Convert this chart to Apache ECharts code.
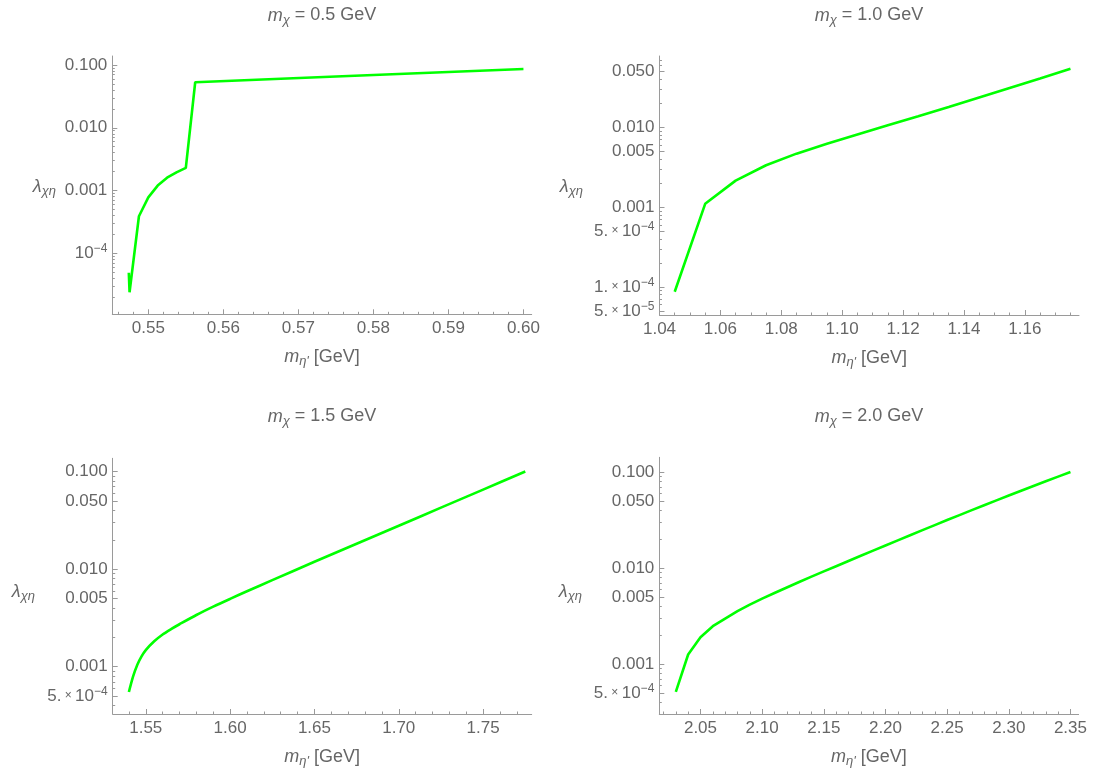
<!DOCTYPE html>
<html>
<head>
<meta charset="utf-8">
<script src="https://cdn.jsdelivr.net/npm/echarts@6.0.0/dist/echarts.min.js"></script>
<style>
html,body{margin:0;padding:0;background:#fff;}
#chart{width:1094px;height:769px;}
</style>
</head>
<body>
<div id="chart"></div>
<script>
// ---------------- data ----------------
const titles = ['0.5 GeV', '1.0 GeV', '1.5 GeV', '2.0 GeV'];

// m_chi = 0.5 GeV
const p1X = [0.5474, 0.5475, 0.54875, 0.5500, 0.55125, 0.5525, 0.55375, 0.5550, 0.55625, 0.5742, 0.5800, 0.5900, 0.6000];
const p1Y = [4.9e-5, 2.4e-5, 3.9e-4, 7.8e-4, 1.2e-3, 1.6e-3, 1.95e-3, 2.3e-3, 0.0531, 0.0649, 0.0692, 0.0773, 0.0863];

// m_chi = 1.0 GeV
const p2X = [1.045, 1.055, 1.065, 1.075, 1.085, 1.095, 1.105, 1.115, 1.125, 1.135, 1.145, 1.155, 1.165, 1.175];
const p2Y = [8.7e-5, 1.10e-3, 2.15e-3, 3.35e-3, 4.68e-3, 6.24e-3, 8.13e-3, 0.0106, 0.0138, 0.0180, 0.0237, 0.0311, 0.0409, 0.0541];

// m_chi = 1.5 GeV
const p3X = [1.540, 1.5425, 1.545, 1.5475, 1.550, 1.555, 1.560, 1.565, 1.570, 1.580, 1.590, 1.600, 1.610, 1.625, 1.650, 1.675, 1.700, 1.725, 1.750, 1.775];
const p3Y = [5.50e-4, 7.94e-4, 1.047e-3, 1.274e-3, 1.479e-3, 1.820e-3, 2.138e-3, 2.427e-3, 2.723e-3, 3.388e-3, 4.121e-3, 4.955e-3, 5.929e-3, 7.709e-3, 0.01189, 0.01820, 0.02786, 0.04266, 0.06531, 0.1000];

// m_chi = 2.0 GeV
const p4X = [2.03, 2.04, 2.05, 2.06, 2.07, 2.08, 2.09, 2.10, 2.11, 2.12, 2.13, 2.14, 2.15, 2.16, 2.17, 2.18, 2.19, 2.20, 2.21, 2.22, 2.23, 2.24, 2.25, 2.26, 2.27, 2.28, 2.29, 2.30, 2.31, 2.32, 2.33, 2.34, 2.35];
const p4Y = [5.129e-4, 1.259e-3, 1.905e-3, 2.483e-3, 2.985e-3, 3.565e-3, 4.169e-3, 4.808e-3, 5.508e-3, 6.292e-3, 7.168e-3, 8.147e-3, 9.243e-3, 0.010478, 0.011873, 0.013448, 0.015226, 0.017227, 0.019487, 0.022029, 0.024889, 0.028088, 0.031681, 0.035705, 0.040216, 0.045238, 0.050862, 0.057118, 0.064091, 0.071819, 0.080394, 0.089917, 0.10042];

// tick labels
const p1XTicks = [0.55, 0.56, 0.57, 0.58, 0.59, 0.60];
const p2XTicks = [1.04, 1.06, 1.08, 1.10, 1.12, 1.14, 1.16];
const p3XTicks = [1.55, 1.60, 1.65, 1.70, 1.75];
const p4XTicks = [2.05, 2.10, 2.15, 2.20, 2.25, 2.30, 2.35];

const p1YTicks = [1e-4, 1e-3, 1e-2, 1e-1];
const p1YLabels = ['{n|10}{p|−4}', '0.001', '0.010', '0.100'];
const p2YTicks = [5e-5, 1e-4, 5e-4, 1e-3, 5e-3, 1e-2, 5e-2];
const p2YLabels = ['{n|5.}{x| × }{n|10}{p|−5}', '{n|1.}{x| × }{n|10}{p|−4}', '{n|5.}{x| × }{n|10}{p|−4}', '0.001', '0.005', '0.010', '0.050'];
const p34YTicks = [5e-4, 1e-3, 5e-3, 1e-2, 5e-2, 1e-1];
const p34YLabels = ['{n|5.}{x| × }{n|10}{p|−4}', '0.001', '0.005', '0.010', '0.050', '0.100'];

// ---------------- layout / style ----------------
const FONT = '"Liberation Sans", Arial, sans-serif';
const AX = '#9a9a9a';
const TXT = '#666666';
const GREEN = '#00ff00';
const TICK_FS = 17;

function range(a, b, step, skipEvery) {
  const out = [];
  for (let k = a; k <= b; k++) {
    if (skipEvery && k % skipEvery === 0) continue;
    out.push(+(k * step).toFixed(4));
  }
  return out;
}
function logMinor(minLog, maxLog, majors) {
  const out = [];
  for (let e = -7; e <= 1; e++) {
    for (let k = 1; k <= 9; k++) {
      const v = k * Math.pow(10, e);
      const lv = Math.log10(v);
      if (lv < minLog || lv > maxLog) continue;
      if (majors.some(m => Math.abs(v / m - 1) < 1e-6)) continue;
      out.push(v);
    }
  }
  return out;
}

const panels = [
  { grid: {left: 112.3, top: 56, width: 419.4, height: 258.3}, xr: [0.5452, 0.6011], yr: [-4.971, -0.857],
    xs: p1X, ys: p1Y, xt: p1XTicks, xm: range(273, 300, 0.002, 5), yt: p1YTicks, yl: p1YLabels, smooth: false,
    lam: [56, 186.5], ttl: [322, 15.5] },
  { grid: {left: 659.5, top: 56, width: 419.5, height: 259}, xr: [1.0400, 1.1778], yr: [-4.352, -1.106],
    xs: p2X, ys: p2Y, xt: p2XTicks, xm: range(208, 235, 0.005, 4), yt: p2YTicks, yl: p2YLabels, smooth: false,
    lam: [583, 187], ttl: [869, 15.5] },
  { grid: {left: 112.7, top: 458.3, width: 419, height: 257.7}, xr: [1.5304, 1.7788], yr: [-3.485, -0.864],
    xs: p3X, ys: p3Y, xt: p3XTicks, xm: range(154, 177, 0.01, 5), yt: p34YTicks, yl: p34YLabels, smooth: 0.3,
    lam: [35, 592], ttl: [322, 416.5] },
  { grid: {left: 659.3, top: 457.3, width: 419.3, height: 258.7}, xr: [2.0166, 2.3566], yr: [-3.52, -0.845],
    xs: p4X, ys: p4Y, xt: p4XTicks, xm: range(202, 235, 0.01, 5), yt: p34YTicks, yl: p34YLabels, smooth: false,
    lam: [582, 592], ttl: [869, 416.5] }
];

const richTick = {
  n: {fontSize: TICK_FS, fontFamily: FONT, color: TXT},
  x: {fontSize: 12, fontFamily: FONT, color: TXT},
  p: {fontSize: 12, fontFamily: FONT, color: TXT, padding: [0, 0, 9, 0]}
};
const richName = {
  i: {fontSize: 18, fontFamily: FONT, fontStyle: 'italic', color: TXT},
  s: {fontSize: 13, fontFamily: FONT, fontStyle: 'italic', color: TXT, padding: [9, 0, 0, 0]},
  n: {fontSize: 18, fontFamily: FONT, color: TXT}
};

const grids = [], xAxes = [], yAxes = [], series = [], graphics = [];

panels.forEach((p, i) => {
  grids.push(Object.assign({containLabel: false}, p.grid));
  const yMin = Math.pow(10, p.yr[0]), yMax = Math.pow(10, p.yr[1]);
  // major x axis
  xAxes.push({
    type: 'value', gridIndex: i, position: 'bottom', min: p.xr[0], max: p.xr[1],
    axisLine: {show: true, onZero: false, lineStyle: {color: AX, width: 1}},
    axisTick: {show: true, inside: true, length: 5, customValues: p.xt, lineStyle: {color: AX}},
    axisLabel: {customValues: p.xt, formatter: v => v.toFixed(2), color: TXT, fontSize: TICK_FS, fontFamily: FONT, margin: 6},
    splitLine: {show: false},
    name: '{i|m}{s|η\'}{n| [GeV]}', nameLocation: 'middle', nameGap: 32,
    nameTextStyle: {color: TXT, fontSize: 18, fontFamily: FONT, rich: richName}
  });
  // minor x axis
  xAxes.push({
    type: 'value', gridIndex: i, position: 'bottom', min: p.xr[0], max: p.xr[1],
    axisLine: {show: false}, axisLabel: {show: false}, splitLine: {show: false},
    axisTick: {show: true, inside: true, length: 2.5, customValues: p.xm, lineStyle: {color: AX}}
  });
  const labelFor = v => {
    for (let k = 0; k < p.yt.length; k++) if (Math.abs(v / p.yt[k] - 1) < 1e-6) return p.yl[k];
    return '';
  };
  yAxes.push({
    type: 'log', logBase: 10, gridIndex: i, position: 'left', min: yMin, max: yMax,
    axisLine: {show: true, onZero: false, lineStyle: {color: AX, width: 1}},
    axisTick: {show: true, inside: true, length: 5, customValues: p.yt, lineStyle: {color: AX}},
    axisLabel: {customValues: p.yt, formatter: labelFor, color: TXT, fontSize: TICK_FS, fontFamily: FONT, margin: 5, rich: richTick},
    splitLine: {show: false}
  });
  yAxes.push({
    type: 'log', logBase: 10, gridIndex: i, position: 'left', min: yMin, max: yMax,
    axisLine: {show: false}, axisLabel: {show: false}, splitLine: {show: false},
    axisTick: {show: true, inside: true, length: 2.5, customValues: logMinor(p.yr[0], p.yr[1], p.yt), lineStyle: {color: AX}}
  });
  series.push({
    type: 'line', xAxisIndex: 2 * i, yAxisIndex: 2 * i,
    data: p.xs.map((x, k) => [x, p.ys[k]]),
    showSymbol: false, symbol: 'none', smooth: p.smooth, clip: true,
    lineStyle: {color: GREEN, width: 2.6}
  });
  graphics.push({
    type: 'text', x: p.ttl[0], y: p.ttl[1],
    style: {
      text: '{i|m}{s|χ}{n| = ' + titles[i] + '}',
      fill: TXT, fontSize: 18, fontFamily: FONT,
      align: 'center', textAlign: 'center', verticalAlign: 'middle', textVerticalAlign: 'middle',
      rich: {
        i: {fontSize: 18, fontFamily: FONT, fontStyle: 'italic', fill: TXT},
        s: {fontSize: 13, fontFamily: FONT, fontStyle: 'italic', fill: TXT, padding: [9, 0, 0, 0]},
        n: {fontSize: 18, fontFamily: FONT, fill: TXT}
      }
    }
  });
  graphics.push({
    type: 'text', x: p.lam[0], y: p.lam[1],
    style: {
      text: '{i|λ}{s|χη}',
      fill: TXT, fontSize: 18, fontFamily: FONT,
      align: 'right', textAlign: 'right', verticalAlign: 'middle', textVerticalAlign: 'middle',
      rich: {
        i: {fontSize: 18, fontFamily: FONT, fontStyle: 'italic', fill: TXT},
        s: {fontSize: 13, fontFamily: FONT, fontStyle: 'italic', fill: TXT, padding: [9, 0, 0, 0]}
      }
    }
  });
});

const chart = echarts.init(document.getElementById('chart'), null, {renderer: 'canvas'});
chart.setOption({
  animation: false,
  backgroundColor: '#ffffff',
  textStyle: {fontFamily: FONT},
  grid: grids,
  xAxis: xAxes,
  yAxis: yAxes,
  series: series,
  graphic: graphics
});
</script>
</body>
</html>
